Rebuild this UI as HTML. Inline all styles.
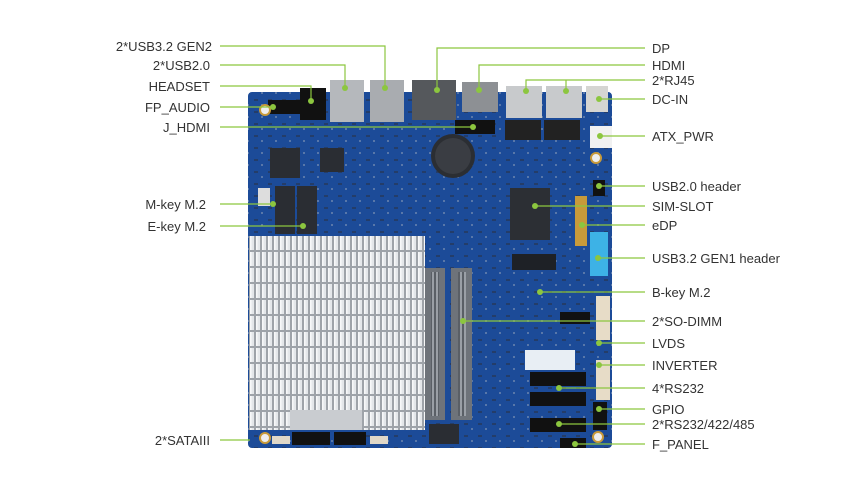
<!DOCTYPE html>
<html><head><meta charset="utf-8"><style>
html,body{margin:0;padding:0;background:#fff;}
svg{display:block;}
text{font-family:"Liberation Sans",Arial,sans-serif;font-size:13px;fill:#333;}
</style></head><body>
<svg width="860" height="483" viewBox="0 0 860 483" xmlns="http://www.w3.org/2000/svg">
<defs>
<pattern id="fins" x="250" y="236" width="6" height="16" patternUnits="userSpaceOnUse">
<rect width="6" height="16" fill="#9ea3a9"/><rect x="0" width="4" height="14" fill="#e4e7ea"/><rect x="0" width="1.5" height="14" fill="#f7f8f9"/>
</pattern>
<pattern id="ram" width="4" height="6" patternUnits="userSpaceOnUse">
<rect width="4" height="6" fill="#5a5f66"/><rect width="2" height="6" fill="#9a9fa6"/>
</pattern>
<pattern id="pcb" width="14" height="12" patternUnits="userSpaceOnUse">
<rect width="14" height="12" fill="#1c4b98"/><rect x="2" y="3" width="4" height="2" fill="#2b2f3a" opacity="0.5"/><rect x="9" y="8" width="2" height="2" fill="#c9c9c9" opacity="0.35"/>
</pattern>
</defs>
<!-- board -->
<rect x="248" y="92" width="364" height="356" rx="4" fill="url(#pcb)"/>
<!-- rear IO -->
<rect x="330" y="80" width="34" height="42" fill="#b5b8bc"/>
<rect x="370" y="80" width="34" height="42" fill="#a9acb0"/>
<rect x="412" y="80" width="44" height="40" fill="#55585c"/>
<rect x="462" y="82" width="36" height="30" fill="#8d9094"/>
<rect x="506" y="86" width="36" height="32" fill="#c8cacc"/>
<rect x="546" y="86" width="36" height="32" fill="#c8cacc"/>
<rect x="586" y="86" width="22" height="26" fill="#d5d5d2"/>
<rect x="300" y="88" width="26" height="32" fill="#111"/>
<rect x="268" y="100" width="32" height="14" fill="#111"/>
<rect x="590" y="126" width="22" height="22" fill="#f1f1f1"/>
<rect x="455" y="120" width="40" height="14" fill="#111"/>
<rect x="505" y="120" width="36" height="20" fill="#222"/>
<rect x="544" y="120" width="36" height="20" fill="#222"/>
<rect x="270" y="148" width="30" height="30" fill="#2a2d33"/>
<rect x="320" y="148" width="24" height="24" fill="#2a2d33"/>
<!-- battery -->
<circle cx="453" cy="156" r="22" fill="#2b2e33"/><circle cx="453" cy="156" r="18" fill="#3a3d43"/>
<!-- M.2 slots -->
<rect x="275" y="186" width="20" height="48" fill="#2a2d33"/>
<rect x="297" y="186" width="20" height="48" fill="#2a2d33"/>
<rect x="258" y="188" width="12" height="18" fill="#ddd"/>
<!-- SIM -->
<rect x="510" y="188" width="40" height="52" fill="#2c2f34"/>
<rect x="512" y="254" width="44" height="16" fill="#1e2126"/>
<rect x="575" y="196" width="12" height="50" fill="#c89a3a"/>
<rect x="590" y="232" width="18" height="44" fill="#3db2e6"/>
<rect x="593" y="180" width="12" height="16" fill="#111"/>
<!-- heatsink -->
<rect x="249" y="236" width="176" height="194" fill="url(#fins)"/>
<rect x="290" y="410" width="72" height="20" fill="#c9ccd0"/>
<rect x="292" y="432" width="38" height="13" fill="#111"/>
<rect x="334" y="432" width="32" height="13" fill="#111"/>
<rect x="272" y="436" width="18" height="8" fill="#e0d8c8"/>
<rect x="370" y="436" width="18" height="8" fill="#e0d8c8"/>
<!-- RAM -->
<rect x="425" y="268" width="20" height="152" fill="#6e737a"/>
<rect x="431" y="272" width="8" height="144" fill="url(#ram)"/>
<rect x="451" y="268" width="21" height="152" fill="#6e737a"/>
<rect x="458" y="272" width="8" height="144" fill="url(#ram)"/>
<rect x="429" y="424" width="30" height="20" fill="#2a2d33"/>
<!-- right headers -->
<rect x="596" y="296" width="14" height="44" fill="#e7dcc7"/>
<rect x="596" y="360" width="14" height="40" fill="#e7dcc7"/>
<rect x="525" y="350" width="50" height="20" fill="#e8eef4"/>
<rect x="530" y="372" width="56" height="14" fill="#111"/>
<rect x="530" y="392" width="56" height="14" fill="#111"/>
<rect x="530" y="418" width="56" height="14" fill="#111"/>
<rect x="560" y="312" width="30" height="12" fill="#111"/>
<rect x="593" y="402" width="14" height="28" fill="#111"/>
<rect x="560" y="438" width="26" height="10" fill="#111"/>
<circle cx="265" cy="110" r="5" fill="#eee" stroke="#c89a3a" stroke-width="2"/>
<circle cx="265" cy="438" r="5" fill="#eee" stroke="#c89a3a" stroke-width="2"/>
<circle cx="598" cy="437" r="5" fill="#eee" stroke="#c89a3a" stroke-width="2"/>
<circle cx="596" cy="158" r="5" fill="#eee" stroke="#c89a3a" stroke-width="2"/>
<!-- connectors -->
<g stroke="#8cc63f" stroke-width="1.2" fill="none">
<polyline points="220,46 385,46 385,88"/>
<polyline points="220,65 345,65 345,88"/>
<polyline points="220,86 311,86 311,101"/>
<line x1="220" y1="107" x2="273" y2="107"/>
<line x1="220" y1="127" x2="473" y2="127"/>
<line x1="220" y1="204" x2="273" y2="204"/>
<line x1="220" y1="226" x2="303" y2="226"/>
<line x1="220" y1="440" x2="250" y2="440"/>
<polyline points="645,48 437,48 437,90"/>
<polyline points="645,65 479,65 479,90"/>
<polyline points="645,80 526,80 526,91"/>
<line x1="566" y1="80" x2="566" y2="91"/>
<line x1="599" y1="99" x2="645" y2="99"/>
<line x1="600" y1="136" x2="645" y2="136"/>
<line x1="599" y1="186" x2="645" y2="186"/>
<line x1="535" y1="206" x2="645" y2="206"/>
<line x1="582" y1="225" x2="645" y2="225"/>
<line x1="598" y1="258" x2="645" y2="258"/>
<line x1="540" y1="292" x2="645" y2="292"/>
<line x1="463" y1="321" x2="645" y2="321"/>
<line x1="599" y1="343" x2="645" y2="343"/>
<line x1="599" y1="365" x2="645" y2="365"/>
<line x1="559" y1="388" x2="645" y2="388"/>
<line x1="599" y1="409" x2="645" y2="409"/>
<line x1="559" y1="424" x2="645" y2="424"/>
<line x1="575" y1="444" x2="645" y2="444"/>
</g>
<g fill="#8cc63f">
<circle cx="385" cy="88" r="3"/><circle cx="345" cy="88" r="3"/><circle cx="311" cy="101" r="3"/>
<circle cx="273" cy="107" r="3"/><circle cx="473" cy="127" r="3"/><circle cx="273" cy="204" r="3"/>
<circle cx="303" cy="226" r="3"/><circle cx="437" cy="90" r="3"/><circle cx="479" cy="90" r="3"/>
<circle cx="526" cy="91" r="3"/><circle cx="566" cy="91" r="3"/><circle cx="599" cy="99" r="3"/>
<circle cx="600" cy="136" r="3"/><circle cx="599" cy="186" r="3"/><circle cx="535" cy="206" r="3"/>
<circle cx="582" cy="225" r="3"/><circle cx="598" cy="258" r="3"/><circle cx="540" cy="292" r="3"/>
<circle cx="463" cy="321" r="3"/><circle cx="599" cy="343" r="3"/><circle cx="599" cy="365" r="3"/>
<circle cx="559" cy="388" r="3"/><circle cx="599" cy="409" r="3"/><circle cx="559" cy="424" r="3"/>
<circle cx="575" cy="444" r="3"/>
</g>
<g text-anchor="end">
<text x="212" y="51">2*USB3.2 GEN2</text>
<text x="210" y="70">2*USB2.0</text>
<text x="210" y="91">HEADSET</text>
<text x="210" y="112">FP_AUDIO</text>
<text x="210" y="132">J_HDMI</text>
<text x="206" y="209">M-key M.2</text>
<text x="206" y="231">E-key M.2</text>
<text x="210" y="445">2*SATAIII</text>
</g>
<g>
<text x="652" y="53">DP</text>
<text x="652" y="70">HDMI</text>
<text x="652" y="85">2*RJ45</text>
<text x="652" y="104">DC-IN</text>
<text x="652" y="141">ATX_PWR</text>
<text x="652" y="191">USB2.0 header</text>
<text x="652" y="211">SIM-SLOT</text>
<text x="652" y="230">eDP</text>
<text x="652" y="263">USB3.2 GEN1 header</text>
<text x="652" y="297">B-key M.2</text>
<text x="652" y="326">2*SO-DIMM</text>
<text x="652" y="348">LVDS</text>
<text x="652" y="370">INVERTER</text>
<text x="652" y="393">4*RS232</text>
<text x="652" y="414">GPIO</text>
<text x="652" y="429">2*RS232/422/485</text>
<text x="652" y="449">F_PANEL</text>
</g>
</svg>
</body></html>
